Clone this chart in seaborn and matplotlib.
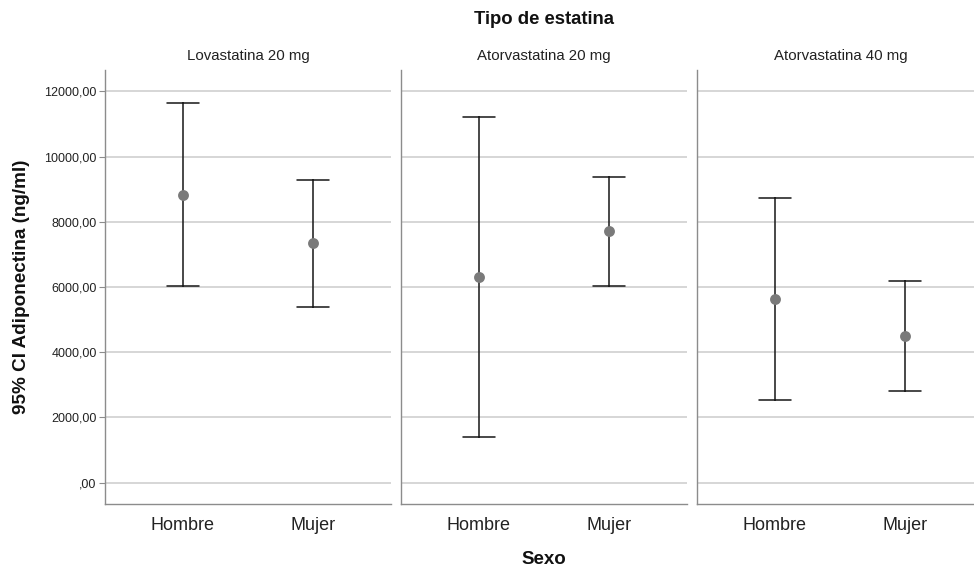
import numpy as np
import pandas as pd
import matplotlib
matplotlib.use("Agg")
import matplotlib.pyplot as plt
from matplotlib.ticker import FuncFormatter, FixedLocator
import seaborn as sns

# Statin groups (facet panels) and sex categories
estatinas = ["Lovastatina 20 mg", "Atorvastatina 20 mg", "Atorvastatina 40 mg"]
sexos = ["Hombre", "Mujer"]

# Mean adiponectin (ng/ml) and 95% CI bounds, per statin, ordered Hombre, Mujer
media = {
    "Lovastatina 20 mg": [8824, 7342],
    "Atorvastatina 20 mg": [6299, 7710],
    "Atorvastatina 40 mg": [5634, 4490],
}
ic_inferior = {
    "Lovastatina 20 mg": [6024, 5398],
    "Atorvastatina 20 mg": [1411, 6042],
    "Atorvastatina 40 mg": [2527, 2812],
}
ic_superior = {
    "Lovastatina 20 mg": [11636, 9293],
    "Atorvastatina 20 mg": [11207, 9376],
    "Atorvastatina 40 mg": [8741, 6177],
}

y_ticks = [0, 2000, 4000, 6000, 8000, 10000, 12000]

# Long table: lower bound, mean and upper bound for each group, so that the
# median gives the mean and the min/max give the interval ends.
rows = []
for est in estatinas:
    for i, sx in enumerate(sexos):
        for v in (ic_inferior[est][i], media[est][i], ic_superior[est][i]):
            rows.append({"Tipo de estatina": est, "Sexo": sx, "valor": v})
df = pd.DataFrame(rows)

sns.set_theme(style="white")
plt.rcParams["font.family"] = ["Liberation Sans", "DejaVu Sans"]

W, H = 974, 572
fig = plt.figure(figsize=(W / 100, H / 100), dpi=100)

ax_bottom = (H - 504.3) / H
ax_height = (504.3 - 70) / H
panel_lefts = [105, 401, 697]
panel_width = 286

grid_color = "#cccccc"
spine_color = "#8c8c8c"


def fmt_spss(v, pos=None):
    s = f"{v:.2f}".replace(".", ",")
    if s.startswith("0,"):
        s = s[1:]
    return s


for k, est in enumerate(estatinas):
    ax = fig.add_axes([panel_lefts[k] / W, ax_bottom, panel_width / W, ax_height])
    sub = df[df["Tipo de estatina"] == est]

    # CI bars with caps
    sns.pointplot(
        data=sub, x="Sexo", y="valor", order=sexos,
        estimator="median", errorbar=lambda v: (np.min(v), np.max(v)),
        color="#1f1f1f", marker="", linestyle="none",
        capsize=0.25, err_kws={"linewidth": 1.15}, ax=ax,
    )
    # Mean points
    sns.pointplot(
        data=sub, x="Sexo", y="valor", order=sexos,
        estimator="median", errorbar=None,
        color="#7a7a7a", marker="o", markersize=5.8, linestyle="none",
        ax=ax,
    )

    ax.set_xlim(-0.6, 1.6)
    ax.set_ylim(-662, 12657)
    ax.yaxis.set_major_locator(FixedLocator(y_ticks))
    ax.yaxis.grid(True, color=grid_color, linewidth=1.1)
    ax.xaxis.grid(False)
    ax.set_axisbelow(True)

    for side in ("top", "right"):
        ax.spines[side].set_visible(False)
    for side in ("left", "bottom"):
        ax.spines[side].set_color(spine_color)
        ax.spines[side].set_linewidth(1.0)

    ax.set_xlabel("")
    ax.set_ylabel("")
    ax.tick_params(axis="x", length=0, labelsize=13, colors="#222222", pad=9)

    if k == 0:
        ax.yaxis.set_major_formatter(FuncFormatter(fmt_spss))
        ax.tick_params(axis="y", left=True, length=4, width=0.8,
                       color=spine_color, labelsize=9, labelcolor="#222222", pad=2)
    else:
        ax.tick_params(axis="y", left=False, labelleft=False)

    cx = (panel_lefts[k] + panel_width / 2) / W
    if k == 2:
        cx = 841 / W
    fig.text(cx, 1 - 56 / H, est, ha="center", va="center",
             fontsize=10.8, color="#222222")

fig.text(544 / W, 1 - 20 / H, "Tipo de estatina", ha="center", va="center",
         fontsize=13.3, fontweight="bold", color="#111111")
fig.text(544 / W, 1 - 560 / H, "Sexo", ha="center", va="center",
         fontsize=13.5, fontweight="bold", color="#111111")
fig.text(22 / W, 1 - 287 / H, "95% CI Adiponectina (ng/ml)", ha="center",
         va="center", rotation=90, fontsize=13.6, fontweight="bold",
         color="#111111")

fig.savefig("out.png", dpi=100, facecolor="white")
